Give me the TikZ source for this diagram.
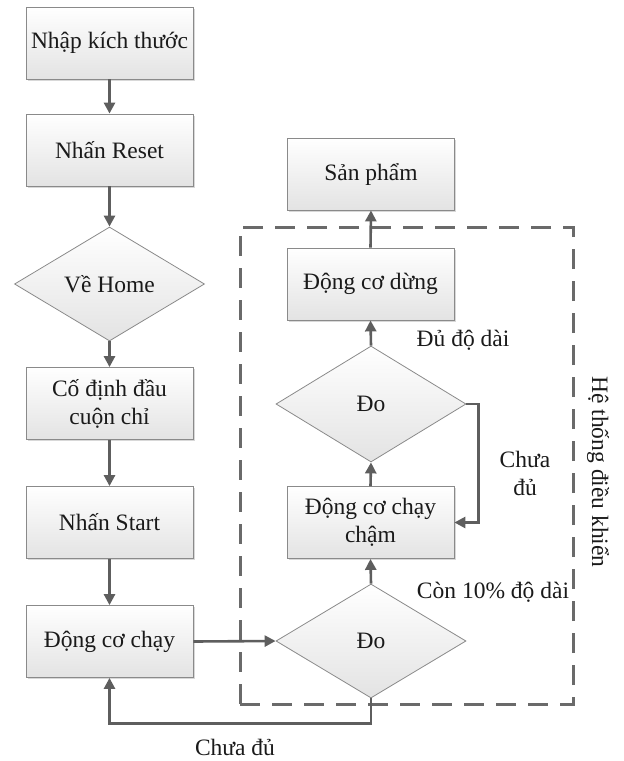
\documentclass[tikz,border=0pt]{standalone}
\usepackage{fontspec}
\setmainfont{Liberation Serif}
\usetikzlibrary{shapes.geometric,arrows.meta,shadows}
\definecolor{arrowgray}{HTML}{5E5E5E}
\definecolor{dashgray}{HTML}{6A6A6A}
\definecolor{bordergray}{HTML}{8A8A8A}
\definecolor{txt}{HTML}{1A1A1A}
\begin{document}
\begin{tikzpicture}[x=1pt,y=-1pt,
  every node/.style={font=\fontsize{23.5}{28}\selectfont, text=txt},
  procbox/.style={rectangle, draw=bordergray, line width=0.8pt, top color=white, bottom color=black!11,
    minimum width=167pt, minimum height=72pt, align=center, inner sep=2pt,
    drop shadow={shadow xshift=1.5pt, shadow yshift=-1.5pt, fill=black!30, opacity=0.5}},
  decbox/.style={diamond, aspect=1.667, draw=bordergray, line width=0.8pt, top color=white, bottom color=black!11,
    minimum width=190pt, minimum height=114pt, inner sep=1pt},
  flow/.style={draw=arrowgray, line width=2.6pt, -{Triangle[length=11pt,width=11pt]}},
  sysbox/.style={draw=dashgray, line width=3pt, dash pattern=on 20pt off 12pt, minimum width=333pt, minimum height=477pt, inner sep=0pt},
  lbl/.style={align=center, inner sep=0pt}]
\useasboundingbox (0,0) rectangle (624,761);

\node[sysbox] (sys) at (406.5,465.5) {};

% left column
\node[procbox] (n1) at (109.5,43) {Nhập kích thước};
\node[procbox] (n2) at (109.5,150) {Nhấn Reset};
\node[decbox]  (n3) at (109.5,284) {Về Home};
\node[procbox] (n4) at (109.5,403.5) {Cố định đầu\\cuộn chỉ};
\node[procbox] (n5) at (109.5,522.5) {Nhấn Start};
\node[procbox] (n6) at (109.5,641.5) {Động cơ chạy};

% right column
\node[decbox]  (d1) at (371,641) {Đo};
\node[procbox] (m1) at (370.5,522.5) {Động cơ chạy\\chậm};
\node[decbox, minimum height=116pt] (d2) at (371,404) {Đo};
\node[procbox] (m2) at (370.5,284) {Động cơ dừng};
\node[procbox] (sp) at (371,174) {Sản phẩm};

% labels
\node[lbl] (l1) at (463,340) {Đủ độ dài};
\node[lbl] (l2) at (525,473) {Chưa\\đủ};
\node[lbl] (l3) at (493,592) {Còn 10\% độ dài};
\node[lbl] (l4) at (235,747) {Chưa đủ};
\node[lbl, rotate=-90] (l5) at (598,472) {Hệ thống điều khiển};

% connectors
\draw[flow] (n1) -- (n2);
\draw[flow] (n2) -- (n3);
\draw[flow] (n3) -- (n4);
\draw[flow] (n4) -- (n5);
\draw[flow] (n5) -- (n6);
\draw[flow] (n6.east) -- (d1.west);
\draw[flow] (d1.north) -- (m1.south);
\draw[flow] (m1.north) -- (d2.south);
\draw[flow] (d2.north) -- (m2.south);
\draw[flow] (m2.north) -- (sp.south);
\draw[flow] (d2.east) -- ++(12,0) |- (m1.east);
\draw[flow] (d1.south) -- ++(0,25) -| (n6.south);
\end{tikzpicture}
\end{document}
